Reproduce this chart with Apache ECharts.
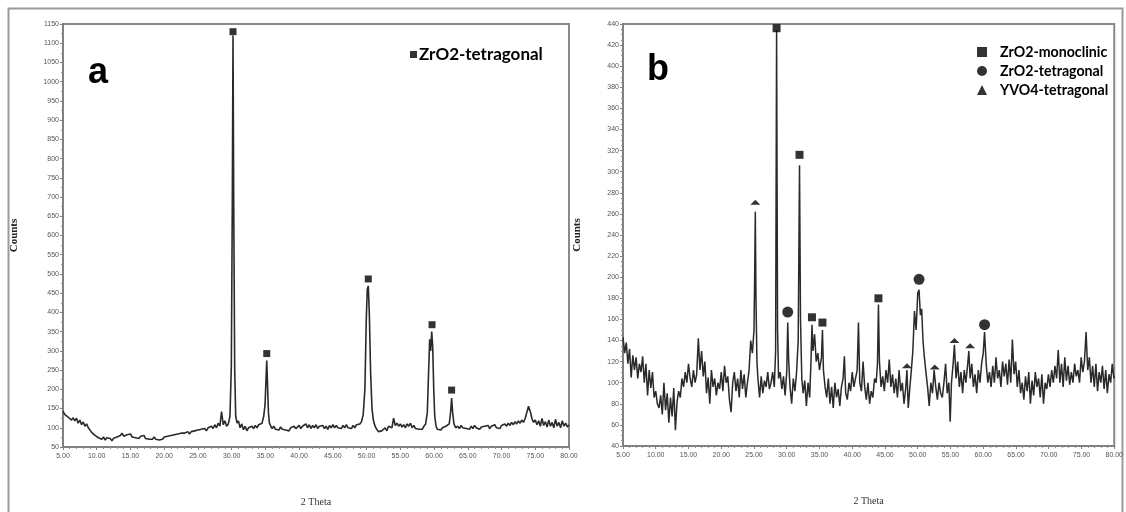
<!DOCTYPE html>
<html><head><meta charset="utf-8">
<script src="https://cdn.jsdelivr.net/npm/echarts@6/dist/echarts.min.js"></script>
<style>html,body{margin:0;padding:0;background:#fff}#c{width:1126px;height:512px}</style>
</head><body><div id="c"></div>
<script>
// ---------- Panel a data ----------
const thetaA = [5.0,5.25,5.5,5.75,6.0,6.25,6.5,6.75,7.0,7.25,7.5,7.75,8.0,8.25,8.5,8.75,9.0,9.25,9.5,9.75,10.0,10.25,10.5,10.75,11.0,11.25,11.5,11.75,12.0,12.25,12.5,12.75,13.0,13.25,13.5,13.75,14.0,14.25,14.5,14.75,15.0,15.25,15.5,15.75,16.0,16.25,16.5,16.75,17.0,17.25,17.5,17.75,18.0,18.25,18.5,18.75,19.0,19.25,19.5,19.75,20.0,20.25,20.5,20.75,21.0,21.25,21.5,21.75,22.0,22.25,22.5,22.75,23.0,23.25,23.5,23.75,24.0,24.25,24.5,24.75,25.0,25.25,25.5,25.75,26.0,26.25,26.5,26.75,27.0,27.25,27.5,27.75,28.0,28.25,28.5,28.75,29.0,29.25,29.5,29.75,29.95,30.1,30.2,30.3,30.45,30.6,30.8,31.0,31.25,31.5,31.75,32.0,32.25,32.5,32.75,33.0,33.25,33.5,33.75,34.0,34.25,34.5,34.75,34.95,35.1,35.2,35.3,35.45,35.6,35.8,36.0,36.25,36.5,36.75,37.0,37.25,37.5,37.75,38.0,38.25,38.5,38.75,39.0,39.25,39.5,39.75,40.0,40.25,40.5,40.75,41.0,41.25,41.5,41.75,42.0,42.25,42.5,42.75,43.0,43.25,43.5,43.75,44.0,44.25,44.5,44.75,45.0,45.25,45.5,45.75,46.0,46.25,46.5,46.75,47.0,47.25,47.5,47.75,48.0,48.25,48.5,48.75,49.0,49.25,49.5,49.75,49.95,50.1,50.25,50.4,50.6,50.8,51.0,51.25,51.5,51.75,52.0,52.25,52.5,52.75,53.0,53.25,53.5,53.75,54.0,54.25,54.5,54.75,55.0,55.25,55.5,55.75,56.0,56.25,56.5,56.75,57.0,57.25,57.5,57.75,58.0,58.25,58.5,58.75,59.0,59.2,59.35,59.5,59.65,59.8,59.95,60.1,60.3,60.5,60.75,61.0,61.25,61.5,61.75,62.0,62.25,62.45,62.6,62.75,62.95,63.2,63.5,63.75,64.0,64.25,64.5,64.75,65.0,65.25,65.5,65.75,66.0,66.25,66.5,66.75,67.0,67.25,67.5,67.75,68.0,68.25,68.5,68.75,69.0,69.25,69.5,69.75,70.0,70.25,70.5,70.75,71.0,71.25,71.5,71.75,72.0,72.25,72.5,72.75,73.0,73.25,73.5,73.75,74.0,74.15,74.3,74.5,74.75,75.0,75.25,75.5,75.75,76.0,76.25,76.5,76.75,77.0,77.25,77.5,77.75,78.0,78.25,78.5,78.75,79.0,79.25,79.5,79.75,80.0];
const countsA = [143,135,140,128,132,120,126,118,125,112,120,108,115,104,110,100,96,88,92,80,84,74,78,70,76,68,74,70,72,66,73,70,76,72,80,86,78,74,82,78,84,76,80,74,78,72,78,74,80,72,76,70,74,70,76,70,74,68,72,70,76,72,78,74,80,76,82,78,84,80,86,82,86,84,90,84,90,86,92,88,94,90,96,92,98,92,100,95,104,98,108,100,112,104,142,108,118,104,110,130,260,700,1120,700,250,130,112,118,100,110,95,104,92,100,96,104,98,106,100,108,104,112,130,160,230,275,220,140,112,104,98,104,96,100,94,102,96,100,94,98,92,100,96,104,98,100,106,98,104,100,110,100,108,98,106,100,108,98,104,100,106,98,104,96,106,100,108,100,106,100,104,98,106,100,108,100,104,98,106,100,108,104,110,116,135,200,380,460,469,400,240,150,120,104,96,90,86,92,96,100,92,104,108,100,125,106,112,104,110,102,108,100,110,104,112,100,106,98,102,96,100,96,104,110,140,250,330,300,350,310,200,130,104,96,100,94,100,98,104,100,110,140,177,140,110,100,104,98,106,100,104,98,102,96,104,98,106,100,104,96,102,98,104,100,106,98,104,100,108,100,104,98,106,102,110,104,112,106,114,108,116,110,118,112,120,114,124,140,156,160,140,124,114,120,108,118,104,124,106,116,102,120,104,114,100,122,104,114,100,118,104,112,102,108];
const markThetaA = [30.2,35.2,50.25,59.7,62.6];
const markCountsA = [1130,293,487,368,198];

// ---------- Panel b data ----------
const thetaB = [5.0,5.25,5.5,5.75,6.0,6.25,6.5,6.75,7.0,7.25,7.5,7.75,8.0,8.25,8.5,8.75,9.0,9.25,9.5,9.75,10.0,10.25,10.5,10.75,11.0,11.25,11.5,11.75,12.0,12.25,12.5,12.75,13.0,13.25,13.5,13.75,14.0,14.25,14.5,14.75,15.0,15.25,15.5,15.75,16.0,16.25,16.5,16.75,17.0,17.25,17.5,17.75,18.0,18.25,18.5,18.75,19.0,19.25,19.5,19.75,20.0,20.25,20.5,20.75,21.0,21.25,21.5,21.75,22.0,22.25,22.5,22.75,23.0,23.25,23.5,23.75,24.0,24.25,24.5,24.75,25.0,25.1,25.2,25.3,25.45,25.6,25.85,26.1,26.35,26.6,26.85,27.1,27.35,27.6,27.85,28.1,28.3,28.45,28.6,28.75,29.0,29.25,29.5,29.75,30.0,30.15,30.3,30.5,30.75,31.0,31.25,31.5,31.75,31.95,32.1,32.3,32.5,32.75,33.0,33.25,33.5,33.7,33.85,34.0,34.25,34.5,34.75,35.0,35.3,35.45,35.6,35.85,36.1,36.35,36.6,36.85,37.1,37.35,37.6,37.85,38.1,38.35,38.6,38.8,39.0,39.25,39.5,39.75,40.0,40.25,40.5,40.75,40.95,41.15,41.4,41.65,41.9,42.15,42.4,42.65,42.9,43.15,43.4,43.65,43.85,44.0,44.15,44.4,44.65,44.9,45.15,45.4,45.65,45.9,46.15,46.4,46.65,46.9,47.15,47.4,47.65,47.9,48.15,48.35,48.55,48.8,49.0,49.25,49.5,49.75,50.0,50.2,50.4,50.6,50.8,51.0,51.25,51.5,51.75,52.0,52.25,52.5,52.75,53.0,53.25,53.5,53.75,54.0,54.25,54.5,54.75,54.95,55.15,55.4,55.6,55.85,56.1,56.35,56.6,56.85,57.1,57.35,57.6,57.8,58.0,58.25,58.5,58.75,59.0,59.25,59.5,59.75,60.0,60.2,60.45,60.7,60.95,61.2,61.45,61.7,61.95,62.2,62.45,62.7,62.95,63.2,63.45,63.7,63.95,64.2,64.45,64.7,64.95,65.2,65.45,65.7,65.95,66.2,66.45,66.7,66.95,67.2,67.45,67.7,67.95,68.2,68.45,68.7,68.95,69.2,69.45,69.7,69.95,70.2,70.45,70.7,70.95,71.2,71.45,71.7,71.95,72.2,72.45,72.7,72.95,73.2,73.45,73.7,73.95,74.2,74.45,74.7,74.95,75.2,75.45,75.7,75.95,76.2,76.45,76.7,76.95,77.2,77.45,77.7,77.95,78.2,78.45,78.7,78.95,79.2,79.45,79.7,79.95,80.0];
const countsB = [143,128,138,118,132,105,126,112,124,104,118,110,125,100,118,88,112,95,110,86,92,80,76,88,70,100,74,90,62,86,68,95,55,82,92,86,104,96,110,100,118,104,96,112,100,108,142,112,130,106,120,90,105,80,112,96,104,88,100,94,110,92,116,100,106,84,72,100,110,92,104,86,112,94,108,86,100,112,140,128,150,200,262,180,120,104,86,106,90,102,96,110,94,100,110,96,130,434,150,104,110,94,106,88,110,157,120,96,80,104,92,110,140,306,160,104,90,102,78,100,86,120,155,130,146,120,128,112,124,150,112,96,86,104,80,96,76,100,86,94,78,96,104,125,90,84,100,92,110,96,104,112,157,100,92,120,96,84,100,80,92,86,104,100,118,174,120,96,106,92,112,100,122,96,108,90,104,86,112,92,100,80,94,112,76,96,110,130,168,150,185,188,164,170,140,125,110,96,78,100,90,112,96,84,100,90,86,100,118,90,100,63,100,118,136,104,120,96,110,90,112,100,116,130,104,118,96,108,90,112,100,118,128,148,118,100,110,96,116,100,124,104,112,96,120,106,118,98,122,100,141,108,120,96,112,90,100,84,106,92,110,80,102,88,110,96,104,86,108,80,100,94,108,96,112,100,116,104,131,100,118,96,124,102,116,98,110,100,118,106,112,100,124,110,120,148,112,124,100,116,96,118,92,110,100,116,94,112,90,108,100,118,104,106];
const monoTheta = [28.45,31.95,33.85,35.45,44.0];
const monoCounts = [436,316,162,157,180];
const tetraTheta = [30.15,50.2,60.2];
const tetraCounts = [167,198,155];
const yvoTheta = [25.2,48.35,52.6,55.6,58.0];
const yvoCounts = [271,116,115,140,135];

// x tick labels
const xTickLabels = ['5.00','10.00','15.00','20.00','25.00','30.00','35.00','40.00','45.00','50.00','55.00','60.00','65.00','70.00','75.00','80.00'];

const zip = (xs, ys) => xs.map((x, i) => [x, ys[i]]);

const tickFont = {fontFamily:'Liberation Sans', fontSize:7, color:'#555'};
function xAxis(gi){
  return {type:'value', gridIndex:gi, min:5, max:80, interval:5,
    axisLine:{show:true, lineStyle:{color:'#808080', width:2}},
    axisTick:{show:true, length:3, lineStyle:{color:'#808080'}},
    minorTick:{show:true, splitNumber:5, length:2, lineStyle:{color:'#909090'}},
    splitLine:{show:false},
    axisLabel:Object.assign({margin:6, formatter:(v)=>xTickLabels[Math.round((v-5)/5)] || ''}, tickFont),
    name:'2 Theta', nameLocation:'middle', nameGap:50,
    nameTextStyle:{fontFamily:'Liberation Serif', fontSize:10, color:'#333'}};
}
function yAxis(gi, min, max, interval, minorSplit, gap){
  return {type:'value', gridIndex:gi, min:min, max:max, interval:interval,
    axisLine:{show:true, lineStyle:{color:'#808080', width:2}},
    axisTick:{show:true, length:3, lineStyle:{color:'#808080'}},
    minorTick:{show:true, splitNumber:minorSplit, length:2, lineStyle:{color:'#909090'}},
    splitLine:{show:false},
    axisLabel:Object.assign({margin:4, formatter:(v)=>String(v)}, tickFont),
    name:'Counts', nameLocation:'middle', nameGap:gap,
    nameTextStyle:{fontFamily:'Liberation Serif', fontSize:11, fontWeight:'bold', color:'#222'}};
}

const chart = echarts.init(document.getElementById('c'), null, {renderer:'canvas'});
chart.setOption({
  animation:false,
  backgroundColor:'#fff',
  grid:[
    {left:63, top:24, width:506, height:425, show:true, borderColor:'#8a8a8a', borderWidth:2, backgroundColor:'transparent'},
    {left:623, top:24, width:497, height:422, show:true, borderColor:'#8a8a8a', borderWidth:2, backgroundColor:'transparent'}
  ],
  xAxis:[xAxis(0), xAxis(1)],
  yAxis:[yAxis(0,50,1150,50,2,43), yAxis(1,40,440,20,4,40)],
  legend:[
    {left:405, top:41, itemWidth:7, itemHeight:7, itemGap:4, icon:'rect',
     textStyle:{fontFamily:'Lato', fontWeight:'bold', fontSize:17, color:'#000', padding:[0,0,0,-3]},
     data:[{name:'ZrO2-tetragonal', icon:'rect'}], selectedMode:false},
    {left:972, top:40, orient:'vertical', itemWidth:10, itemHeight:10, itemGap:5,
     textStyle:{fontFamily:'Lato', fontWeight:'bold', fontSize:14.2, color:'#000', padding:[0,0,0,8]},
     data:[{name:'ZrO2-monoclinic', icon:'rect'},{name:'ZrO2-tetragonal ', icon:'circle'},{name:'YVO4-tetragonal', icon:'triangle'}],
     selectedMode:false}
  ],
  graphic:[
    {type:'rect', shape:{x:8.5, y:8.5, width:1114, height:520}, style:{fill:'none', stroke:'#9a9a9a', lineWidth:2}, silent:true},
    {type:'text', left:88, top:55, style:{text:'a', fontFamily:'Liberation Sans', fontWeight:'bold', fontSize:36, fill:'#000'}},
    {type:'text', left:647, top:52, style:{text:'b', fontFamily:'Liberation Sans', fontWeight:'bold', fontSize:36, fill:'#000'}}
  ],
  series:[
    {type:'line', xAxisIndex:0, yAxisIndex:0, data:zip(thetaA, countsA), showSymbol:false,
     lineStyle:{color:'#2a2a2a', width:1.6}, z:2},
    {name:'ZrO2-tetragonal', type:'scatter', xAxisIndex:0, yAxisIndex:0, data:zip(markThetaA, markCountsA),
     symbol:'rect', symbolSize:7, itemStyle:{color:'#000'}, z:3},
    {type:'line', xAxisIndex:1, yAxisIndex:1, data:zip(thetaB, countsB), showSymbol:false,
     lineStyle:{color:'#2a2a2a', width:1.5}, z:2},
    {name:'ZrO2-monoclinic', type:'scatter', xAxisIndex:1, yAxisIndex:1, data:zip(monoTheta, monoCounts),
     symbol:'rect', symbolSize:8, itemStyle:{color:'#000'}, z:3},
    {name:'ZrO2-tetragonal ', type:'scatter', xAxisIndex:1, yAxisIndex:1, data:zip(tetraTheta, tetraCounts),
     symbol:'circle', symbolSize:11, itemStyle:{color:'#000'}, z:3},
    {name:'YVO4-tetragonal', type:'scatter', xAxisIndex:1, yAxisIndex:1, data:zip(yvoTheta, yvoCounts),
     symbol:'triangle', symbolSize:[10,5], itemStyle:{color:'#000'}, z:3}
  ]
});
</script></body></html>
